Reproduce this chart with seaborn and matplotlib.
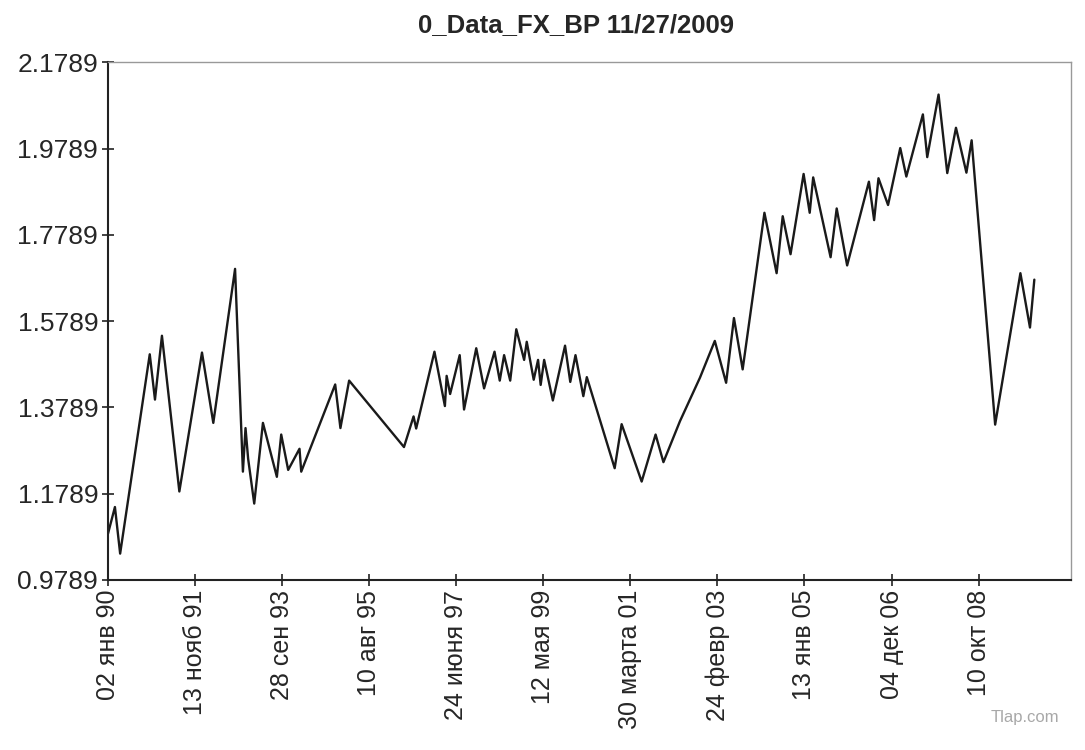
import matplotlib.pyplot as plt
import pandas as pd
import seaborn as sns

# --- Data (x in tick units, one unit per date label)
pos = [0.00, 0.08, 0.14, 0.48, 0.54, 0.62, 0.82, 1.08, 1.21, 1.46,
       1.55, 1.58, 1.61, 1.68, 1.78, 1.94, 1.99, 2.07, 2.20, 2.22,
       2.61, 2.67, 2.77, 3.40, 3.51, 3.54, 3.75, 3.87, 3.89, 3.93,
       4.04, 4.09, 4.23, 4.32, 4.44, 4.50, 4.55, 4.62, 4.69, 4.78,
       4.81, 4.89, 4.94, 4.97, 5.01, 5.11, 5.25, 5.31, 5.37, 5.46,
       5.50, 5.82, 5.90, 6.13, 6.29, 6.38, 6.57, 6.80, 6.97, 7.10,
       7.19, 7.29, 7.54, 7.68, 7.75, 7.84, 7.99, 8.06, 8.10, 8.30,
       8.37, 8.49, 8.74, 8.80, 8.85, 8.96, 9.10, 9.17, 9.36, 9.41,
       9.54, 9.64, 9.74, 9.86, 9.92, 10.19, 10.48, 10.59, 10.64]
rate = [1.086, 1.148, 1.040, 1.502, 1.397, 1.545, 1.184, 1.506, 1.343, 1.700,
        1.230, 1.331, 1.260, 1.156, 1.343, 1.218, 1.316, 1.234, 1.283, 1.230,
        1.432, 1.331, 1.441, 1.287, 1.358, 1.330, 1.508, 1.382, 1.452, 1.410,
        1.500, 1.374, 1.516, 1.423, 1.508, 1.441, 1.500, 1.441, 1.560, 1.489,
        1.531, 1.443, 1.489, 1.431, 1.489, 1.395, 1.522, 1.438, 1.500, 1.405,
        1.449, 1.238, 1.340, 1.207, 1.316, 1.252, 1.347, 1.448, 1.533, 1.436,
        1.586, 1.467, 1.830, 1.690, 1.822, 1.734, 1.920, 1.830, 1.912, 1.727,
        1.840, 1.708, 1.902, 1.813, 1.910, 1.848, 1.980, 1.914, 2.058, 1.959,
        2.104, 1.922, 2.027, 1.923, 1.998, 1.339, 1.690, 1.564, 1.675]

date_labels = ["02 янв 90", "13 нояб 91", "28 сен 93", "10 авг 95",
               "24 июня 97", "12 мая 99", "30 марта 01", "24 февр 03",
               "13 янв 05", "04 дек 06", "10 окт 08"]
y_ticks = [0.9789, 1.1789, 1.3789, 1.5789, 1.7789, 1.9789, 2.1789]

df = pd.DataFrame({"pos": pos, "rate": rate})

# --- Style
sns.set_theme(style="white")
plt.rcParams["font.family"] = ["Liberation Sans", "DejaVu Sans"]

fig = plt.figure(figsize=(10.85, 7.5), dpi=100)
ax = fig.add_axes([0.0995, 0.2267, 0.8875, 0.6903])

sns.lineplot(data=df, x="pos", y="rate", sort=False, color="#1a1a1a",
             linewidth=1.7, ax=ax)

ax.set_xlim(0, 11.06)
ax.set_ylim(0.9789, 2.1789)
ax.set_yticks(y_ticks)
ax.set_yticklabels([f"{v:.4f}" for v in y_ticks], fontsize=19)
ax.set_xticks(range(len(date_labels)))
ax.set_xticklabels(date_labels, rotation=90, fontsize=18)
ax.tick_params(axis="both", direction="inout", length=8, width=1.2,
               color="#222222", bottom=True, left=True, pad=3)
ax.set_xlabel("")
ax.set_ylabel("")

for side in ["left", "bottom"]:
    ax.spines[side].set_color("#222222")
    ax.spines[side].set_linewidth(1.5)
for side in ["top", "right"]:
    ax.spines[side].set_color("#999999")
    ax.spines[side].set_linewidth(1.0)

# title sits a little left of the axes centre in the reference
ax.set_title("0_Data_FX_BP 11/27/2009", fontsize=18.5, fontweight="bold",
             pad=22, x=0.486)

fig.text(0.976, 0.043, "Tlap.com", ha="right", va="center", fontsize=12,
         color="#a8a8a8")

fig.savefig("out.png", dpi=100)
